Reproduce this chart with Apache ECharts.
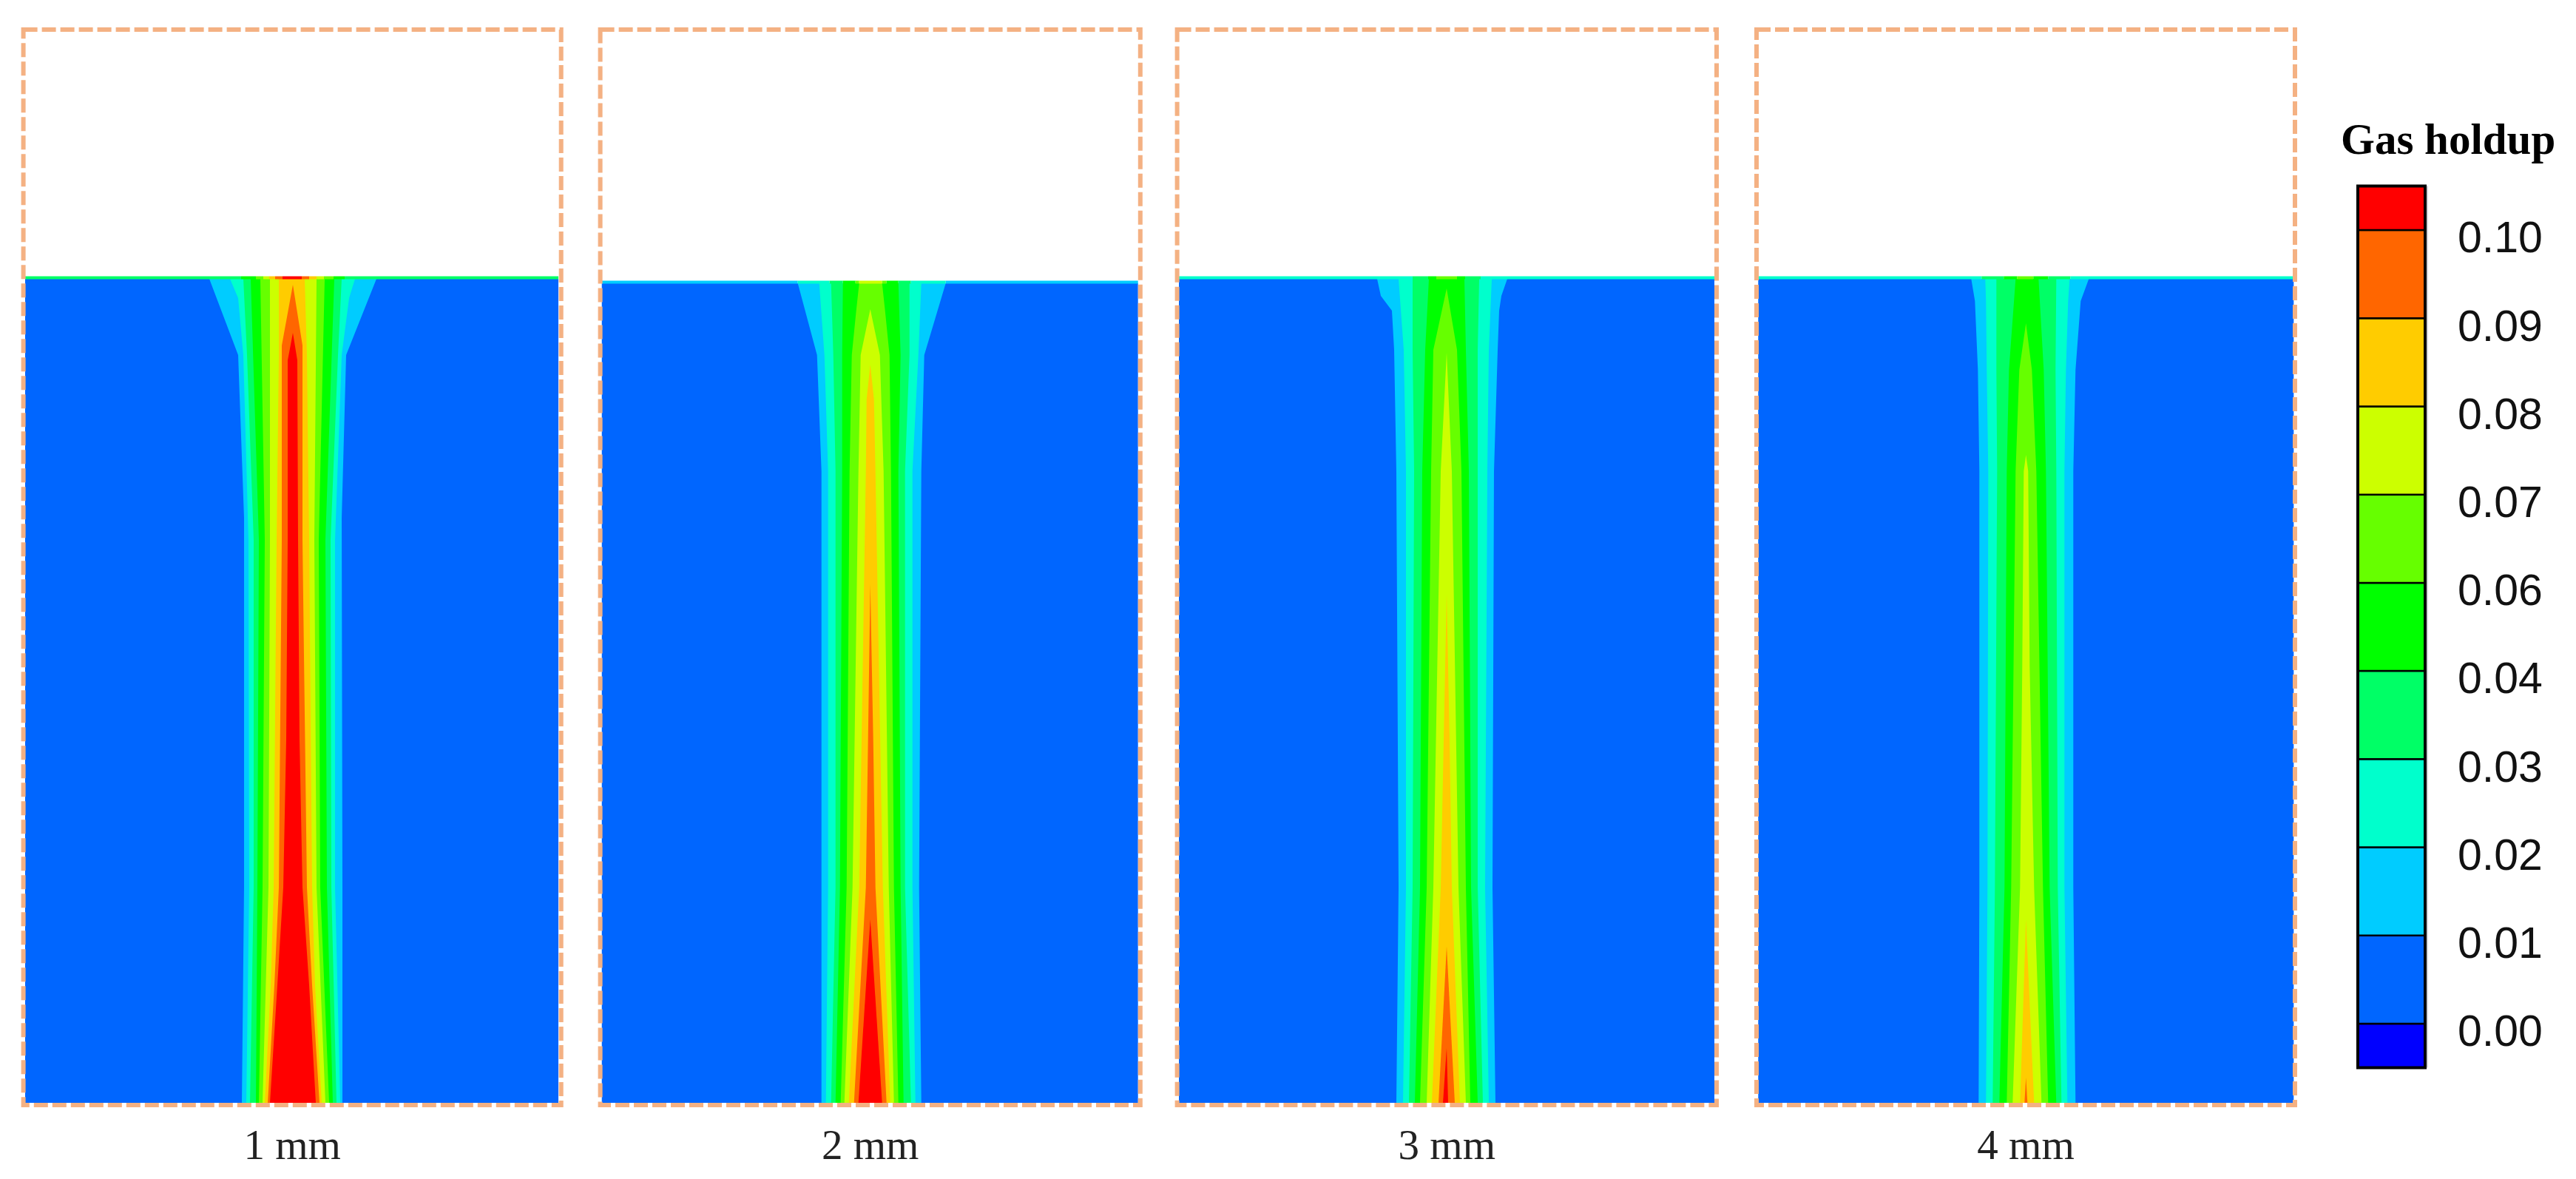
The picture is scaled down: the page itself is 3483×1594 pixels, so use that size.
<!DOCTYPE html>
<html>
<head>
<meta charset="utf-8">
<title>Gas holdup</title>
<style>
html, body { margin: 0; padding: 0; background: #fff; }
#container { width: 3483px; height: 1594px; filter: blur(0.7px); }
</style>
<script src="https://cdn.jsdelivr.net/npm/echarts@6/dist/echarts.min.js"></script>
</head>
<body>
<div id="container"></div>
<script>
// nozzle sizes, one panel each
var panelNames = ['1 mm', '2 mm', '3 mm', '4 mm'];

// colour bar, bottom to top
var tickLabels = ['0.00', '0.01', '0.02', '0.03', '0.04', '0.06', '0.07', '0.08', '0.09', '0.10'];
var barLow = [-0.5, 0, 1, 2, 3, 4, 5, 6, 7, 8, 9];
var barHigh = [0, 1, 2, 3, 4, 5, 6, 7, 8, 9, 9.5];

// contour outlines, lowest band first
// each row: [depth below frame top, left edge, right edge], edges relative to the jet axis
var panel1Contours = [
    [[337, -362, 359], [1451, -362, 359]],
    [[337, -113, 113], [440, -74, 72], [660, -66, 66], [1160, -66, 67], [1451, -69, 67]],
    [[337, -85, 84], [363, -74, 76], [440, -67, 66], [690, -60, 57], [1160, -59, 57], [1451, -63, 64]],
    [[337, -67, 66], [440, -62, 61], [690, -53, 51], [1160, -53, 52], [1451, -58, 59]],
    [[337, -57, 56], [690, -46, 44], [1160, -48, 46], [1451, -50, 54]],
    [[337, -44, 43], [690, -38, 35], [1160, -41, 37], [1451, -46, 49]],
    [[337, -31, 32], [690, -31, 29], [1160, -33, 32], [1451, -41, 44]],
    [[337, -19, 16], [440, -19, 19], [690, -22, 22], [1160, -26, 26], [1292, -30, 30], [1451, -38, 39]],
    [[345, 0, 0], [427, -15, 13], [690, -15, 13], [1160, -19, 19], [1292, -25, 26], [1451, -34, 36]],
    [[410, 0, 0], [447, -7, 6], [690, -7, 7], [960, -9, 9], [1160, -13, 13], [1292, -21, 22], [1451, -31, 31]]
];
var panel2Contours = [
    [[343, -363, 362], [1451, -363, 362]],
    [[343, -98, 102], [440, -72, 73], [597, -66, 69], [1160, -66, 66], [1451, -66, 69]],
    [[343, -69, 69], [440, -62, 65], [597, -57, 57], [1160, -57, 57], [1451, -60, 61]],
    [[343, -53, 53], [440, -50, 53], [597, -47, 47], [1160, -47, 47], [1451, -53, 55]],
    [[343, -37, 38], [440, -38, 41], [597, -38, 38], [1160, -41, 41], [1451, -47, 45]],
    [[343, -15, 16], [380, -19, 20], [440, -25, 26], [597, -28, 28], [1160, -32, 32], [1451, -40, 38]],
    [[378, 0, 0], [440, -13, 13], [597, -16, 18], [1160, -24, 25], [1451, -35, 32]],
    [[453, 0, 0], [500, -5, 5], [597, -6, 7], [1160, -15, 17], [1451, -29, 27]],
    [[750, 0, 0], [960, -3, 4], [1160, -6, 7], [1451, -22, 22]],
    [[1203, 0, 0], [1451, -16, 16]]
];
var panel3Contours = [
    [[337, -362, 362], [1451, -362, 362]],
    [[337, -94, 82], [360, -89, 74], [380, -74, 71], [433, -71, 69], [597, -68, 64], [1160, -65, 62], [1451, -68, 66]],
    [[337, -65, 61], [433, -58, 57], [597, -55, 55], [1160, -55, 52], [1451, -59, 57]],
    [[337, -46, 44], [433, -46, 42], [597, -44, 42], [1160, -46, 42], [1451, -51, 49]],
    [[337, -24, 24], [433, -29, 26], [597, -33, 30], [1160, -36, 33], [1451, -43, 42]],
    [[350, 0, 0], [433, -18, 14], [597, -21, 20], [1160, -27, 26], [1451, -36, 32]],
    [[437, 0, 0], [597, -8, 7], [1160, -18, 16], [1451, -27, 26]],
    [[762, 0, 0], [960, -4, 4], [1160, -8, 7], [1451, -20, 18]],
    [[1240, 0, 0], [1451, -11, 11]],
    [[1377, 0, 0], [1451, -5, 2]]
];
var panel4Contours = [
    [[337, -362, 362], [1451, -362, 362]],
    [[337, -74, 85], [367, -69, 74], [460, -65, 67], [597, -63, 64], [1160, -63, 64], [1451, -64, 67]],
    [[337, -55, 59], [367, -54, 57], [460, -53, 54], [597, -51, 52], [1160, -52, 52], [1451, -54, 56]],
    [[337, -40, 41], [460, -40, 40], [597, -39, 41], [1160, -42, 43], [1451, -45, 48]],
    [[337, -14, 17], [460, -23, 24], [597, -26, 27], [1160, -29, 32], [1451, -36, 41]],
    [[397, 0, 0], [460, -9, 8], [597, -14, 14], [1160, -20, 23], [1451, -26, 30]],
    [[575, 0, 0], [597, -3, 3], [860, -5, 5], [1160, -8, 11], [1451, -18, 21]],
    [[1203, 0, 0], [1451, -8, 11]],
    [[1417, 0, 0], [1451, -2, 2]]
];

// free surface: thin strip, each row [from, to, contour band]
var panel1Surface = [[-362, -70, 3], [-70, -50, 4], [-50, -40, 5], [-40, -32, 6], [-32, -24, 7], [-24, -14, 8], [-14, 12, 9], [12, 22, 8], [22, 32, 7], [32, 42, 6], [42, 55, 5], [55, 70, 4], [70, 359, 3]];
var panel2Surface = [[-363, -98, 1], [-98, -55, 2], [-55, -37, 3], [-37, -20, 4], [-20, -15, 5], [-15, 16, 6], [16, 22, 5], [22, 38, 4], [38, 55, 3], [55, 102, 2], [102, 362, 1]];
var panel3Surface = [[-362, -46, 2], [-46, -25, 3], [-25, -14, 4], [-14, 14, 5], [14, 25, 4], [25, 46, 3], [46, 362, 2]];
var panel4Surface = [[-362, -60, 2], [-60, -30, 3], [-30, -12, 4], [-12, 10, 5], [10, 30, 4], [30, 60, 3], [60, 362, 2]];

var levelColors = ['#0066ff', '#00ccff', '#00ffcc', '#00ff66', '#00ff00', '#66ff00', '#ccff00', '#ffcc00', '#ff6600', '#ff0000'];
var barColors = ['#0000ff'].concat(levelColors);

// frame of each panel on the page, and where the jet axis sits in it
var frames = [
    { left: 31.6, right: 758.7, axis: 396, contours: panel1Contours, surface: panel1Surface, surfaceDepth: [333.5, 337.5] },
    { left: 811.6, right: 1541.8, axis: 1176.7, contours: panel2Contours, surface: panel2Surface, surfaceDepth: [339.5, 343.5] },
    { left: 1591.6, right: 2321, axis: 1956, contours: panel3Contours, surface: panel3Surface, surfaceDepth: [333.5, 337.5] },
    { left: 2375, right: 3103, axis: 2739.3, contours: panel4Contours, surface: panel4Surface, surfaceDepth: [333.5, 337.5] }
];
var frameTop = 40;
var frameHeight = 1454;

var grids = [], xAxes = [], yAxes = [], series = [];

frames.forEach(function (f, p) {
    grids.push({ left: f.left, top: frameTop, width: f.right - f.left, height: frameHeight });
    xAxes.push({
        type: 'value',
        gridIndex: p,
        min: f.left - f.axis,
        max: f.right - f.axis,
        name: panelNames[p],
        nameLocation: 'middle',
        nameGap: 30,
        nameTextStyle: { fontFamily: 'Liberation Serif', fontSize: 57, color: '#222' },
        axisLine: { show: false },
        axisTick: { show: false },
        axisLabel: { show: false },
        splitLine: { show: false }
    });
    yAxes.push({ type: 'value', gridIndex: p, inverse: true, min: 0, max: frameHeight, show: false, splitLine: { show: false } });

    // filled contours, nested, so each one is painted over the one below
    series.push({
        type: 'custom',
        xAxisIndex: p,
        yAxisIndex: p,
        silent: true,
        data: f.contours.map(function (c, i) { return [0, 0, i]; }),
        renderItem: function (params, api) {
            var rows = f.contours[params.dataIndex];
            var pts = [];
            rows.forEach(function (r) { pts.push(api.coord([r[1], r[0]])); });
            rows.slice().reverse().forEach(function (r) { pts.push(api.coord([r[2], r[0]])); });
            return { type: 'polygon', shape: { points: pts }, style: { fill: levelColors[params.dataIndex] } };
        }
    });

    // free surface strip
    series.push({
        type: 'custom',
        xAxisIndex: p,
        yAxisIndex: p,
        silent: true,
        data: f.surface,
        renderItem: function (params, api) {
            var a = api.coord([api.value(0), f.surfaceDepth[0]]);
            var b = api.coord([api.value(1), f.surfaceDepth[1]]);
            return {
                type: 'rect',
                shape: { x: a[0], y: a[1], width: b[0] - a[0], height: b[1] - a[1] },
                style: { fill: levelColors[api.value(2)] }
            };
        }
    });

    // dashed frame
    series.push({
        type: 'custom',
        xAxisIndex: p,
        yAxisIndex: p,
        silent: true,
        z: 5,
        data: [[0, 0]],
        renderItem: function (params, api) {
            var a = api.coord([f.left - f.axis, 0]);
            var b = api.coord([f.right - f.axis, frameHeight]);
            return {
                type: 'rect',
                shape: { x: a[0], y: a[1], width: b[0] - a[0], height: b[1] - a[1] },
                style: { fill: 'none', stroke: '#f4b183', lineWidth: 6, lineDash: [19, 6] }
            };
        }
    });
});

// colour bar on its own grid, ticks at the contour levels
grids.push({ left: 3188, top: 191.8, width: 95, height: 1311.4 });
xAxes.push({ type: 'value', gridIndex: 4, min: 0, max: 95, show: false, splitLine: { show: false } });
yAxes.push({ type: 'value', gridIndex: 4, min: -1, max: 10, interval: 1, show: false, splitLine: { show: false } });

// the printed labels sit a little below their divider, so they get a second grid
grids.push({ left: 3188, top: 205.8, width: 95, height: 1311.4 });
xAxes.push({ type: 'value', gridIndex: 5, min: 0, max: 95, show: false, splitLine: { show: false } });
yAxes.push({
    type: 'value',
    gridIndex: 5,
    position: 'right',
    min: -1,
    max: 10,
    interval: 1,
    axisLine: { show: false },
    axisTick: { show: false },
    splitLine: { show: false },
    axisLabel: {
        margin: 40,
        fontFamily: 'Liberation Sans',
        fontSize: 59,
        color: '#111',
        formatter: function (v) { return tickLabels[v] || ''; }
    }
});

series.push({
    type: 'custom',
    xAxisIndex: 4,
    yAxisIndex: 4,
    silent: true,
    data: barLow.map(function (low, i) { return [low, barHigh[i]]; }),
    renderItem: function (params, api) {
        var a = api.coord([0, api.value(1)]);
        var b = api.coord([91, api.value(0)]);
        return {
            type: 'rect',
            shape: { x: a[0], y: a[1], width: b[0] - a[0], height: b[1] - a[1] },
            style: { fill: barColors[params.dataIndex], stroke: '#000', lineWidth: 2.5 }
        };
    }
});
// bar outline with its grey shadow on the right
series.push({
    type: 'custom',
    xAxisIndex: 4,
    yAxisIndex: 4,
    silent: true,
    z: 3,
    data: [[-0.5, 9.5]],
    renderItem: function (params, api) {
        var a = api.coord([0, api.value(1)]);
        var b = api.coord([91, api.value(0)]);
        var c = api.coord([95, api.value(0)]);
        return {
            type: 'group',
            children: [
                { type: 'rect', shape: { x: b[0] + 1, y: a[1], width: c[0] - b[0] - 1, height: b[1] - a[1] }, style: { fill: '#d0d4d8' } },
                { type: 'rect', shape: { x: a[0], y: a[1], width: b[0] - a[0], height: b[1] - a[1] }, style: { fill: 'none', stroke: '#000', lineWidth: 4 } }
            ]
        };
    }
});

var option = {
    backgroundColor: '#fff',
    animation: false,
    title: {
        text: 'Gas holdup',
        left: 3165,
        top: 163,
        padding: 0,
        textStyle: { fontFamily: 'Liberation Serif', fontWeight: 'bold', fontSize: 59, color: '#000' }
    },
    grid: grids,
    xAxis: xAxes,
    yAxis: yAxes,
    series: series
};

var myChart = echarts.init(document.getElementById('container'), null, { renderer: 'canvas', devicePixelRatio: 1 });
myChart.setOption(option, true);
</script>
</body>
</html>
